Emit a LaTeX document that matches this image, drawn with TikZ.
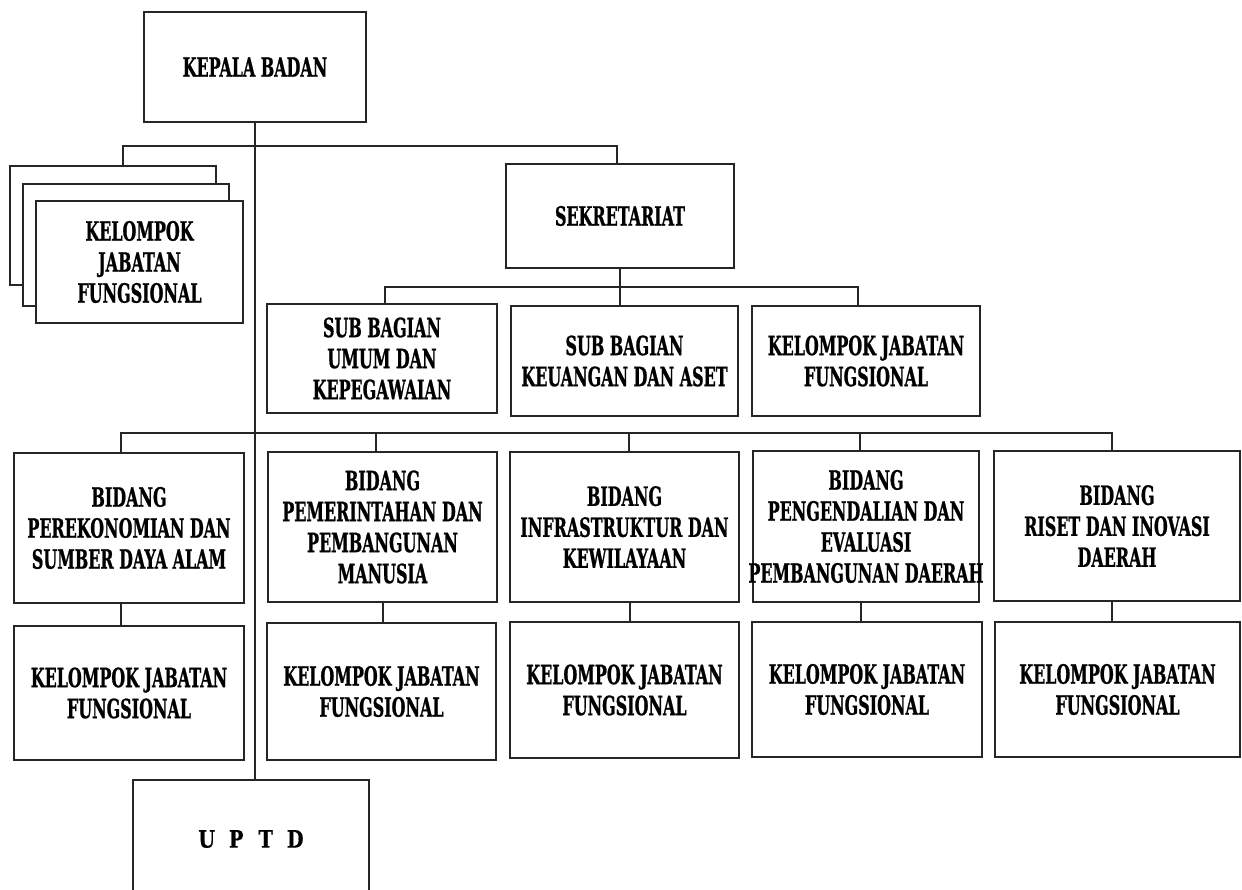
\documentclass[tikz,border=0pt]{standalone}
\usepackage{fontspec}
\newfontfamily\slab[FakeStretch=0.6,FakeBold=0.8]{DejaVu Serif}
\newfontfamily\slabw[FakeStretch=0.8,FakeBold=0.6]{DejaVu Serif}
\tikzset{
  box/.style={draw=black!85, line width=1.6pt, fill=white, inner sep=0pt, align=center,
    font=\slab\bfseries\fontsize{26.5}{31}\selectfont},
  link/.style={draw=black!85, line width=1.4pt},
}
\newcommand{\lt}[1]{\makebox[29.5pt]{#1}}
\begin{document}
\begin{tikzpicture}[x=1pt,y=-1pt]
\useasboundingbox (0,0) rectangle (1242,889);
\clip (0,0) rectangle (1242,889);
\fill[white] (0,0) rectangle (1242,889);

% top
\node[box, minimum width=222pt, minimum height=110pt] (kepala) at (255,67) {KEPALA BADAN};

% stacked functional group
\node[box, minimum width=206pt, minimum height=119pt] (kjfa) at (113,225.5) {};
\node[box, minimum width=206pt, minimum height=122pt] (kjfb) at (126,245) {};
\node[box, minimum width=207pt, minimum height=122pt] (kjfc) at (139.5,262) {KELOMPOK\\JABATAN\\FUNGSIONAL};

% secretariat
\node[box, minimum width=228pt, minimum height=104pt] (sekr) at (620,216) {SEKRETARIAT};
\node[box, minimum width=230pt, minimum height=109pt] (umum) at (382,358.5) {SUB BAGIAN\\UMUM DAN\\KEPEGAWAIAN};
\node[box, minimum width=227pt, minimum height=110pt] (keu) at (624.5,361) {SUB BAGIAN\\KEUANGAN DAN ASET};
\node[box, minimum width=228pt, minimum height=110pt] (kjfs) at (866,361) {KELOMPOK JABATAN\\FUNGSIONAL};

% bidang
\node[box, minimum width=230pt, minimum height=150pt] (b1) at (129,528) {BIDANG\\PEREKONOMIAN DAN\\SUMBER DAYA ALAM};
\node[box, minimum width=229pt, minimum height=150pt] (b2) at (382.5,527) {BIDANG\\PEMERINTAHAN DAN\\PEMBANGUNAN\\MANUSIA};
\node[box, minimum width=229pt, minimum height=150pt] (b3) at (624.5,527) {BIDANG\\INFRASTRUKTUR DAN\\KEWILAYAAN};
\node[box, minimum width=226pt, minimum height=151pt] (b4) at (866,526.5) {BIDANG\\PENGENDALIAN DAN\\EVALUASI\\\makebox[226pt]{PEMBANGUNAN DAERAH}};
\node[box, minimum width=246pt, minimum height=150pt] (b5) at (1117,526) {BIDANG\\RISET DAN INOVASI\\DAERAH};

% kelompok under bidang
\node[box, minimum width=230pt, minimum height=134pt] (k1) at (129,693) {KELOMPOK JABATAN\\FUNGSIONAL};
\node[box, minimum width=229pt, minimum height=137pt] (k2) at (381.5,691.5) {KELOMPOK JABATAN\\FUNGSIONAL};
\node[box, minimum width=229pt, minimum height=136pt] (k3) at (624.5,690) {KELOMPOK JABATAN\\FUNGSIONAL};
\node[box, minimum width=230pt, minimum height=135pt] (k4) at (867,689.5) {KELOMPOK JABATAN\\FUNGSIONAL};
\node[box, minimum width=245pt, minimum height=135pt] (k5) at (1117.5,689.5) {KELOMPOK JABATAN\\FUNGSIONAL};

% UPTD
\node[box, minimum width=236pt, minimum height=118pt, font=\slabw\bfseries\fontsize{24}{28}\selectfont] (uptd) at (251,839) {\lt{U}\lt{P}\lt{T}\lt{D}};

% connectors
\draw[link] (kepala.south) -- (kepala.south |- uptd.north);

\coordinate (t1L) at (123,146);
\coordinate (t1R) at (617,146);
\draw[link] (t1L |- kjfa.north) -- (t1L) -- (t1R) -- (t1R |- sekr.north);

\coordinate (s1L) at (385,287);
\coordinate (s1M) at (620,287);
\coordinate (s1R) at (858,287);
\draw[link] (sekr.south) -- (s1M) -- (s1M |- keu.north);
\draw[link] (s1L |- umum.north) -- (s1L) -- (s1R) -- (s1R |- kjfs.north);

\coordinate (c1) at (121,433);
\coordinate (c2) at (376,433);
\coordinate (c3) at (629,433);
\coordinate (c4) at (860,433);
\coordinate (c5) at (1112,433);
\draw[link] (c1 |- b1.north) -- (c1) -- (c5) -- (c5 |- b5.north);
\draw[link] (c2) -- (c2 |- b2.north);
\draw[link] (c3) -- (c3 |- b3.north);
\draw[link] (c4) -- (c4 |- b4.north);

\coordinate (d1) at (121,615);
\coordinate (d2) at (383,615);
\coordinate (d3) at (630,615);
\coordinate (d4) at (861,615);
\coordinate (d5) at (1112,615);
\draw[link] (d1 |- b1.south) -- (d1 |- k1.north);
\draw[link] (d2 |- b2.south) -- (d2 |- k2.north);
\draw[link] (d3 |- b3.south) -- (d3 |- k3.north);
\draw[link] (d4 |- b4.south) -- (d4 |- k4.north);
\draw[link] (d5 |- b5.south) -- (d5 |- k5.north);
\end{tikzpicture}
\end{document}
